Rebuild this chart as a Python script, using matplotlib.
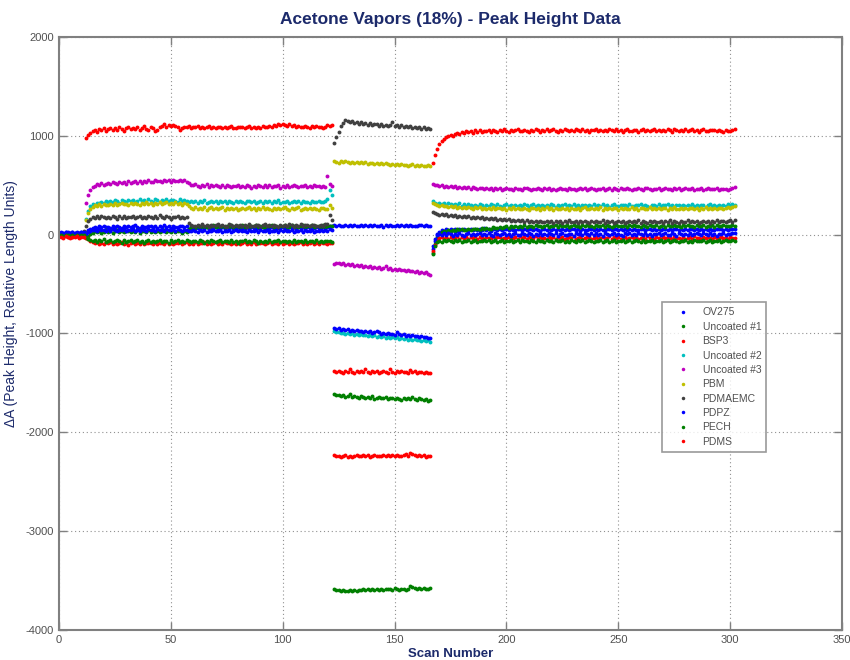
import numpy as np
import matplotlib
matplotlib.use("Agg")
import matplotlib.pyplot as plt

plt.rcParams['font.family'] = ['Liberation Sans Narrow', 'Liberation Sans', 'DejaVu Sans']
plt.rcParams['axes.unicode_minus'] = False

# Scan numbers 1..302: baseline (1-11), exposure (12-122), mid step (123-166), recovery (167-302)
first_scan = 1

labels = ["OV275", "Uncoated #1", "BSP3", "Uncoated #2", "Uncoated #3",
          "PBM", "PDMAEMC", "PDPZ", "PECH", "PDMS"]
colors = ["#0000ff", "#007f00", "#ff0000", "#00bfbf", "#bf00bf",
          "#bfbf00", "#404040", "#0000ff", "#007f00", "#ff0000"]

ov275 = [
    20, 15, 25, 10, 18, 22, 12, 20, 15, 25, 18,
    30, 50, 60, 72, 80, 68, 85, 78, 90, 75,
    82, 70, 88, 76, 92, 80, 72, 86, 78, 90,
    74, 84, 95, 80, 70, 88, 82, 76, 92, 85,
    78, 90, 72, 86, 80, 94, 76, 84, 70, 88,
    82, 76, 92, 85, 78, 88, 60, 72, 65, 78,
    70, 62, 75, 68, 80, 64, 72, 58, 76, 70,
    66, 78, 60, 74, 68, 82, 64, 70, 76, 62,
    72, 68, 80, 60, 74, 66, 78, 70, 64, 76,
    70, 82, 62, 74, 68, 78, 72, 64, 80, 70,
    66, 76, 72, 80, 62, 74, 70, 78, 68, 75,
    72, 80, 66, 78, 70, 74, 82, 68, 76, 90, 85,
    95, 88, 100, 92, 85, 98, 90, 94, 86, 102,
    92, 88, 96, 84, 100, 90, 94, 86, 98, 92,
    88, 96, 82, 94, 90, 100, 86, 92, 98, 88,
    94, 84, 96, 90, 102, 88, 92, 86, 98, 94,
    88, 96, 90, 85,
    -150, -60, 10, 30, 45, 38, 55, 42, 60, 48,
    52, 40, 58, 46, 62, 50, 44, 56, 48, 60,
    42, 54, 50, 64, 46, 58, 40, 52, 56, 48,
    60, 44, 52, 58, 46, 62, 50, 42, 56, 54,
    48, 60, 44, 52, 58, 46, 62, 50, 40, 56,
    52, 46, 60, 48, 54, 42, 58, 50, 62, 46,
    56, 44, 52, 60, 48, 54, 40, 58, 50, 46,
    62, 52, 44, 56, 48, 60, 50, 42, 58, 54,
    46, 60, 52, 44, 56, 50, 62, 48, 54, 42,
    58, 50, 46, 60, 52, 44, 56, 62, 48, 54,
    50, 58, 42, 56, 60, 46, 52, 48, 62, 54,
    44, 56, 50, 60, 46, 58, 52, 42, 56, 50,
    62, 48, 54, 46, 58, 50, 44, 60, 52, 56,
    48, 58, 50, 62, 54, 60,
]

uncoated1 = [
    5, -5, 10, 0, -10, 5, 0, 8, -5, 2, 0,
    -30, -10, 10, 20, 35, 25, 40, 18, 30, 42,
    28, 36, 20, 32, 45, 26, 38, 22, 34, 40,
    24, 36, 30, 44, 20, 32, 38, 26, 42, 30,
    36, 22, 40, 28, 34, 46, 24, 38, 30, 42,
    26, 36, 32, 20, 40, 30, 60, 75, 82, 70,
    88, 78, 92, 80, 74, 90, 84, 96, 76, 86,
    80, 92, 74, 88, 82, 98, 78, 90, 84, 72,
    94, 80, 86, 76, 92, 84, 100, 78, 88, 82,
    74, 90, 86, 96, 80, 88, 76, 92, 84, 98,
    82, 78, 94, 86, 90, 76, 88, 100, 80, 92,
    84, 96, 78, 90, 86, 82, 94, 80, 88, 92, 86,
    -1610, -1625, -1618, -1635, -1622, -1640, -1628, -1615, -1645, -1632,
    -1638, -1650, -1630, -1645, -1655, -1640, -1648, -1635, -1660, -1650,
    -1645, -1658, -1650, -1640, -1662, -1655, -1648, -1665, -1652, -1660,
    -1670, -1655, -1662, -1650, -1668, -1640, -1660, -1672, -1658, -1665,
    -1675, -1660, -1680, -1670,
    -190, -90, -20, 10, 25, 40, 30, 45, 35, 50,
    40, 55, 45, 60, 50, 42, 58, 48, 62, 52,
    60, 50, 66, 56, 70, 62, 58, 74, 64, 70,
    80, 68, 76, 86, 72, 84, 78, 90, 74, 88,
    82, 94, 78, 86, 92, 80, 96, 84, 90, 76,
    88, 98, 82, 92, 86, 100, 80, 94, 88, 84,
    96, 82, 90, 100, 86, 92, 78, 94, 88, 98,
    84, 92, 80, 96, 90, 86, 100, 82, 94, 88,
    78, 92, 98, 84, 90, 86, 96, 80, 94, 88,
    100, 84, 92, 78, 96, 88, 82, 94, 90, 86,
    98, 82, 90, 94, 80, 96, 88, 84, 100, 86,
    92, 78, 94, 88, 98, 84, 90, 82, 96, 88,
    86, 100, 82, 92, 88, 96, 80, 94, 90, 84,
    98, 86, 92, 88, 96, 90,
]

bsp3 = [
    -10, -20, -15, -25, -12, -20, -18, -10, -22, -15, -20,
    -30, -45, -60, -70, -85, -75, -90, -80, -95, -78,
    -88, -72, -92, -80, -98, -84, -76, -90, -82, -100,
    -86, -78, -94, -82, -90, -74, -96, -84, -88, -80,
    -92, -76, -98, -86, -82, -94, -78, -90, -84, -96,
    -80, -88, -74, -92, -86, -78, -96, -82, -90, -76,
    -94, -84, -88, -72, -92, -80, -98, -86, -78, -90,
    -84, -96, -76, -88, -82, -94, -80, -90, -74, -92,
    -86, -78, -96, -84, -90, -76, -94, -82, -88, -80,
    -98, -84, -76, -92, -86, -80, -94, -78, -90, -84,
    -76, -92, -86, -98, -80, -88, -74, -94, -82, -90,
    -84, -78, -96, -86, -92, -76, -88, -82, -94, -80, -86,
    -1380, -1392, -1375, -1388, -1395, -1378, -1390, -1360, -1385, -1398,
    -1382, -1390, -1376, -1394, -1355, -1388, -1396, -1380, -1392, -1384,
    -1398, -1386, -1378, -1392, -1400, -1358, -1388, -1395, -1382, -1390,
    -1376, -1394, -1386, -1402, -1365, -1390, -1384, -1398, -1388, -1394,
    -1400, -1386, -1405, -1396,
    -170, -100, -50, -35, -20, -40, -28, -45, -22, -38,
    -30, -15, -42, -25, -36, -20, -44, -28, -34, -18,
    -40, -26, -32, -46, -22, -36, -30, -14, -38, -28,
    -24, -42, -30, -36, -20, -46, -32, -26, -40, -18,
    -34, -28, -44, -22, -38, -30, -16, -42, -26, -36,
    -30, -48, -24, -34, -20, -40, -28, -36, -22, -44,
    -32, -26, -38, -18, -42, -30, -24, -46, -34, -28,
    -20, -40, -36, -26, -44, -30, -22, -38, -32, -16,
    -42, -28, -34, -24, -46, -36, -20, -40, -30, -26,
    -38, -22, -44, -32, -28, -40, -18, -36, -30, -46,
    -24, -34, -42, -26, -38, -20, -32, -44, -28, -36,
    -30, -48, -22, -40, -34, -26, -42, -18, -36, -30,
    -44, -28, -38, -24, -32, -46, -26, -40, -34, -20,
    -38, -30, -44, -26, -36, -32,
]

uncoated2 = [
    10, 0, 12, 5, -5, 8, 3, 10, 0, 5, 8,
    160, 240, 290, 310, 300, 325, 315, 330, 320, 340,
    328, 345, 332, 350, 338, 322, 355, 340, 330, 348,
    336, 352, 330, 345, 360, 338, 350, 328, 356, 342,
    334, 358, 346, 330, 352, 340, 362, 336, 348, 354,
    340, 332, 356, 344, 350, 338, 330, 345, 328, 340,
    322, 338, 330, 346, 318, 334, 342, 326, 338, 320,
    336, 328, 344, 322, 340, 330, 316, 338, 326, 342,
    330, 320, 336, 344, 326, 338, 318, 334, 340, 324,
    342, 328, 336, 320, 338, 330, 346, 322, 334, 326,
    340, 318, 332, 344, 326, 336, 322, 340, 328, 334,
    320, 338, 330, 326, 342, 334, 328, 340, 360, 450, 400,
    -975, -990, -982, -1000, -992, -1005, -996, -1010, -998, -1012,
    -1004, -1018, -1008, -1020, -1012, -1026, -1015, -1030, -1020, -1034,
    -1024, -1036, -1030, -1042, -1032, -1046, -1038, -1050, -1040, -1054,
    -1046, -1058, -1050, -1062, -1054, -1066, -1058, -1070, -1062, -1074,
    -1066, -1078, -1070, -1082,
    340, 325, 310, 318, 305, 322, 300, 315, 308, 296,
    312, 300, 318, 294, 306, 290, 310, 298, 286, 304,
    292, 308, 296, 284, 302, 290, 312, 298, 288, 306,
    294, 282, 300, 310, 290, 298, 286, 304, 292, 300,
    288, 306, 296, 284, 300, 312, 292, 298, 286, 304,
    294, 300, 288, 308, 296, 284, 302, 290, 298, 310,
    286, 300, 294, 306, 290, 298, 284, 304, 296, 288,
    302, 292, 308, 286, 298, 294, 306, 290, 300, 284,
    298, 310, 292, 288, 304, 296, 300, 286, 306, 294,
    290, 302, 296, 308, 288, 300, 294, 284, 304, 298,
    292, 306, 286, 300, 296, 310, 290, 298, 284, 302,
    296, 288, 304, 292, 300, 286, 306, 294, 298, 290,
    302, 296, 284, 300, 308, 290, 298, 286, 304, 294,
    300, 288, 306, 296, 310, 302,
]

uncoated3 = [
    5, 10, -5, 0, 8, 2, -2, 6, 0, 4, 10,
    320, 400, 450, 480, 495, 510, 500, 520, 505, 515,
    525, 508, 530, 518, 512, 535, 520, 528, 515, 540,
    522, 532, 545, 525, 538, 520, 542, 530, 548, 535,
    528, 550, 538, 545, 530, 555, 540, 548, 532, 552,
    545, 538, 556, 542, 550, 530, 520, 505, 498, 510,
    495, 485, 502, 490, 510, 482, 498, 488, 505, 492,
    480, 498, 486, 502, 490, 478, 496, 488, 504, 484,
    494, 480, 500, 488, 476, 496, 484, 502, 490, 478,
    498, 486, 504, 482, 494, 488, 500, 476, 492, 486,
    498, 484, 492, 506, 488, 480, 496, 490, 502, 486,
    494, 482, 500, 488, 496, 484, 492, 480, 590, 510, 490,
    -300, -292, -285, -298, -290, -305, -296, -310, -302, -315,
    -306, -320, -312, -325, -318, -332, -322, -336, -328, -340,
    -330, -344, -336, -320, -348, -340, -354, -344, -358, -350,
    -362, -354, -368, -358, -372, -364, -378, -370, -384, -376,
    -390, -382, -400, -410,
    510, 498, 505, 490, 500, 485, 495, 480, 492, 478,
    488, 475, 482, 470, 486, 472, 480, 466, 478, 470,
    462, 476, 468, 458, 474, 464, 470, 456, 472, 460,
    468, 454, 466, 472, 458, 464, 452, 470, 460, 466,
    456, 468, 474, 460, 452, 466, 458, 470, 462, 454,
    468, 460, 472, 456, 464, 450, 466, 474, 458, 462,
    454, 470, 460, 466, 452, 462, 476, 458, 468, 456,
    464, 472, 458, 450, 466, 460, 470, 454, 462, 468,
    456, 474, 462, 452, 468, 460, 458, 472, 464, 450,
    466, 458, 470, 462, 454, 468, 476, 460, 452, 466,
    462, 470, 456, 464, 474, 458, 466, 452, 468, 460,
    472, 456, 464, 470, 458, 462, 476, 454, 466, 460,
    468, 452, 462, 474, 458, 466, 460, 470, 456, 464,
    458, 462, 450, 466, 474, 480,
]

pbm = [
    0, 5, -5, 10, 0, 2, 8, -3, 5, 0, 30,
    150, 220, 260, 280, 295, 288, 305, 292, 310, 300,
    296, 312, 304, 318, 300, 308, 322, 306, 314, 298,
    316, 306, 324, 310, 302, 320, 312, 328, 308, 318,
    304, 322, 314, 330, 310, 318, 326, 306, 320, 312,
    328, 310, 316, 300, 322, 308, 290, 270, 262, 275,
    258, 270, 264, 280, 252, 268, 276, 260, 272, 256,
    266, 278, 254, 270, 262, 274, 258, 268, 250, 264,
    272, 256, 266, 280, 260, 270, 254, 268, 262, 276,
    258, 270, 264, 252, 274, 260, 268, 256, 266, 278,
    262, 254, 270, 258, 266, 276, 250, 264, 272, 258,
    268, 256, 274, 262, 250, 266, 270, 258, 264, 300, 272,
    740, 735, 728, 742, 730, 745, 732, 725, 738, 728,
    735, 720, 730, 724, 736, 718, 728, 722, 714, 726,
    716, 722, 710, 720, 712, 706, 718, 708, 714, 702,
    710, 700, 708, 696, 704, 712, 698, 706, 694, 702,
    696, 690, 700, 692,
    320, 305, 295, 288, 300, 285, 292, 280, 290, 276,
    286, 274, 282, 270, 284, 266, 278, 272, 260, 276,
    268, 280, 262, 274, 258, 270, 264, 278, 256, 268,
    272, 260, 266, 254, 270, 262, 276, 258, 268, 264,
    256, 272, 262, 250, 266, 274, 260, 268, 254, 270,
    262, 276, 258, 266, 252, 270, 264, 256, 272, 260,
    268, 254, 274, 262, 258, 270, 250, 266, 276, 260,
    264, 272, 256, 268, 260, 276, 254, 266, 262, 270,
    258, 266, 274, 252, 268, 262, 270, 256, 264, 276,
    260, 270, 254, 266, 272, 258, 264, 278, 256, 268,
    262, 274, 258, 266, 270, 254, 268, 260, 276, 264,
    256, 270, 262, 274, 258, 266, 272, 260, 268, 254,
    270, 264, 276, 258, 266, 262, 272, 256, 268, 274,
    262, 270, 278, 266, 284, 290,
]

pdmaemc = [
    8, 0, 12, 5, 0, 10, 2, -4, 6, 0, 40,
    90, 140, 160, 175, 168, 185, 172, 190, 178, 165,
    182, 170, 188, 176, 162, 184, 172, 192, 168, 180,
    174, 186, 166, 178, 190, 170, 182, 164, 188, 176,
    168, 184, 172, 194, 178, 166, 186, 174, 160, 182,
    176, 188, 170, 180, 164, 178, 120, 100, 92, 86,
    98, 84, 104, 90, 96, 80, 102, 88, 94, 108,
    86, 100, 92, 82, 106, 94, 88, 98, 84, 102,
    90, 96, 80, 104, 92, 86, 100, 94, 82, 98,
    106, 88, 96, 84, 100, 92, 80, 102, 90, 96,
    86, 104, 94, 82, 98, 90, 106, 88, 96, 100,
    84, 94, 102, 90, 86, 98, 92, 104, 110, 200, 150,
    930, 985, 1040, 1095, 1130, 1160, 1145, 1138, 1150, 1128,
    1142, 1120, 1135, 1118, 1130, 1112, 1126, 1108, 1122, 1115,
    1104, 1118, 1100, 1112, 1095, 1108, 1140, 1098, 1110, 1092,
    1105, 1088, 1100, 1084, 1096, 1080, 1092, 1076, 1088, 1072,
    1084, 1070, 1078, 1068,
    230, 215, 205, 198, 210, 195, 205, 190, 200, 186,
    196, 182, 192, 178, 188, 174, 186, 170, 182, 168,
    178, 164, 174, 160, 170, 158, 168, 154, 164, 150,
    160, 148, 156, 144, 154, 140, 150, 138, 148, 136,
    146, 132, 144, 130, 142, 128, 140, 126, 138, 132,
    124, 138, 128, 142, 122, 134, 130, 140, 120, 136,
    128, 144, 124, 132, 138, 120, 134, 126, 142, 130,
    118, 136, 128, 140, 124, 132, 146, 122, 134, 128,
    138, 120, 130, 142, 126, 136, 118, 132, 140, 124,
    134, 128, 144, 122, 136, 130, 118, 138, 126, 142,
    124, 132, 140, 120, 134, 128, 146, 122, 136, 130,
    118, 138, 126, 132, 144, 124, 136, 128, 140, 120,
    132, 142, 126, 136, 122, 138, 130, 146, 124, 134,
    140, 128, 136, 144, 132, 150,
]

pdpz = [
    25, 18, 30, 22, 15, 28, 20, 24, 16, 26, 22,
    10, 25, 35, 42, 50, 38, 55, 44, 48, 36,
    52, 40, 58, 46, 34, 50, 42, 56, 38, 48,
    44, 54, 36, 50, 40, 58, 46, 34, 52, 42,
    48, 38, 56, 44, 50, 36, 54, 42, 46, 58,
    40, 52, 44, 36, 50, 46, 40, 32, 44, 38,
    30, 42, 36, 48, 28, 40, 34, 46, 32, 38,
    44, 30, 40, 36, 48, 26, 38, 42, 34, 46,
    32, 40, 28, 44, 36, 38, 48, 30, 42, 34,
    40, 46, 28, 38, 34, 44, 30, 42, 36, 48,
    32, 38, 44, 30, 40, 36, 46, 28, 42, 34,
    38, 44, 30, 40, 36, 48, 32, 42, 38, 60, 50,
    -945, -955, -948, -962, -952, -968, -958, -972, -962, -976,
    -968, -980, -972, -985, -976, -990, -980, -994, -986, -975,
    -990, -1002, -994, -1006, -998, -1010, -1002, -1014, -985, -1008,
    -1018, -1010, -1022, -1014, -1026, -1018, -1030, -1022, -1034, -1028,
    -1040, -1032, -1046, -1050,
    -120, -40, -5, 10, 0, 15, -8, 12, 2, -10,
    8, -4, 14, 0, -12, 6, 16, -2, 10, -6,
    4, 18, -8, 8, -2, 12, 0, -10, 14, 2,
    -6, 10, 20, -4, 6, -12, 8, 16, 0, -8,
    12, 2, -6, 18, 4, -10, 10, 0, 14, -4,
    6, -8, 16, 2, -2, 12, -10, 8, 20, 0,
    -6, 10, 4, -12, 14, 2, 8, -4, 18, 6,
    -8, 12, 0, 16, -2, 8, -10, 14, 4, -6,
    10, 20, -4, 6, 0, -10, 12, 2, 16, -8,
    8, -2, 14, 4, -6, 18, 0, 10, -12, 6,
    2, 14, -8, 10, 20, 0, -4, 12, 6, -10,
    16, 4, -6, 8, 0, 14, -2, 10, 18, 2,
    -8, 12, 6, -4, 16, 0, 10, -10, 8, 4,
    14, -2, 10, 6, 18, 12,
]

pech = [
    -5, -12, 0, -8, -15, -3, -10, -6, -12, 0, -8,
    -20, -40, -50, -62, -55, -70, -58, -66, -48, -72,
    -60, -52, -74, -64, -56, -68, -80, -58, -70, -62,
    -54, -76, -66, -58, -72, -60, -84, -64, -56, -70,
    -62, -78, -68, -54, -74, -60, -66, -82, -58, -70,
    -64, -56, -76, -62, -70, -58, -68, -74, -60, -66,
    -72, -56, -64, -80, -60, -70, -54, -68, -76, -62,
    -58, -74, -66, -60, -78, -56, -70, -64, -82, -60,
    -68, -54, -72, -62, -76, -58, -66, -80, -60, -70,
    -64, -76, -56, -72, -62, -68, -58, -74, -66, -60,
    -78, -62, -70, -56, -74, -64, -60, -72, -58, -76,
    -66, -60, -74, -56, -70, -64, -78, -62, -68, -60, -72,
    -3590, -3598, -3592, -3605, -3600, -3610, -3602, -3596, -3606, -3598,
    -3604, -3594, -3600, -3590, -3598, -3586, -3594, -3588, -3596, -3584,
    -3592, -3586, -3594, -3582, -3590, -3584, -3592, -3580, -3588, -3595,
    -3584, -3590, -3600, -3585, -3555, -3570, -3575, -3582, -3578, -3586,
    -3580, -3590, -3582, -3578,
    -200, -110, -75, -60, -70, -55, -68, -50, -64, -72,
    -58, -66, -52, -74, -60, -68, -56, -70, -62, -54,
    -72, -60, -66, -50, -68, -58, -76, -62, -54, -70,
    -64, -56, -72, -60, -68, -52, -74, -62, -58, -70,
    -54, -66, -60, -76, -58, -64, -70, -52, -68, -62,
    -74, -56, -66, -60, -72, -54, -68, -62, -58, -76,
    -60, -70, -56, -64, -74, -58, -66, -52, -72, -62,
    -56, -68, -74, -60, -64, -54, -70, -66, -58, -76,
    -62, -56, -72, -60, -68, -52, -74, -64, -58, -70,
    -66, -54, -62, -76, -58, -70, -60, -68, -56, -72,
    -60, -66, -52, -74, -62, -58, -70, -64, -56, -68,
    -72, -60, -66, -54, -70, -62, -76, -58, -64, -60,
    -68, -56, -72, -62, -58, -74, -60, -66, -54, -70,
    -62, -58, -68, -60, -54, -64,
]

pdms = [
    -20, -30, -15, -25, -35, -20, -28, -18, -30, -22, -25,
    980, 1010, 1030, 1045, 1060, 1040, 1070, 1055, 1075, 1050,
    1068, 1080, 1058, 1075, 1062, 1085, 1070, 1052, 1078, 1090,
    1065, 1080, 1072, 1088, 1060, 1082, 1095, 1070, 1062, 1085,
    1078, 1045, 1060, 1090, 1100, 1115, 1092, 1105, 1098, 1110,
    1102, 1088, 1060, 1082, 1094, 1086, 1100, 1078, 1092, 1084,
    1096, 1080, 1090, 1074, 1088, 1098, 1082, 1092, 1076, 1086,
    1094, 1080, 1090, 1078, 1088, 1096, 1082, 1074, 1090, 1084,
    1092, 1078, 1086, 1100, 1080, 1094, 1076, 1088, 1082, 1096,
    1086, 1090, 1104, 1094, 1110, 1100, 1116, 1108, 1120, 1112,
    1104, 1118, 1096, 1108, 1090, 1102, 1094, 1086, 1098, 1090,
    1082, 1096, 1088, 1100, 1084, 1092, 1080, 1094, 1110, 1100, 1106,
    -2230, -2242, -2235, -2248, -2238, -2232, -2245, -2236, -2250, -2240,
    -2232, -2244, -2236, -2228, -2242, -2234, -2246, -2238, -2230, -2244,
    -2236, -2240, -2226, -2238, -2232, -2244, -2234, -2240, -2228, -2236,
    -2242, -2232, -2224, -2238, -2210, -2215, -2228, -2236, -2226, -2240,
    -2232, -2248, -2238, -2244,
    720, 805, 870, 920, 945, 970, 990, 1000, 1010, 995,
    1020, 1030, 1015, 1040, 1025, 1045, 1035, 1050, 1030, 1055,
    1042, 1060, 1038, 1052, 1045, 1062, 1040, 1055, 1048, 1035,
    1058, 1044, 1064, 1050, 1040, 1060, 1046, 1056, 1070, 1052,
    1044, 1062, 1050, 1036, 1058, 1048, 1066, 1054, 1042, 1060,
    1050, 1064, 1044, 1056, 1072, 1052, 1040, 1060, 1048, 1066,
    1056, 1044, 1062, 1050, 1070, 1054, 1046, 1064, 1052, 1058,
    1042, 1060, 1054, 1068, 1048, 1058, 1044, 1062, 1052, 1070,
    1056, 1046, 1064, 1050, 1060, 1042, 1058, 1072, 1052, 1048,
    1062, 1054, 1040, 1058, 1066, 1050, 1060, 1044, 1056, 1068,
    1052, 1062, 1046, 1058, 1050, 1070, 1054, 1042, 1064, 1056,
    1048, 1060, 1052, 1066, 1044, 1058, 1072, 1050, 1062, 1040,
    1056, 1068, 1050, 1046, 1062, 1054, 1060, 1044, 1058, 1050,
    1040, 1056, 1046, 1052, 1060, 1064,
]

series = [ov275, uncoated1, bsp3, uncoated2, uncoated3,
          pbm, pdmaemc, pdpz, pech, pdms]

x_ticks = [0, 50, 100, 150, 200, 250, 300, 350]
y_ticks = [-4000, -3000, -2000, -1000, 0, 1000, 2000]

navy = "#1c2a6b"
frame_gray = "#808080"
text_gray = "#505050"

fig = plt.figure(figsize=(8.5, 6.6), dpi=100)
ax = fig.add_axes([0.0694, 0.0455, 0.9212, 0.8985])

for vals, lab, col in zip(series, labels, colors):
    scans = np.arange(first_scan, first_scan + len(vals))
    ax.plot(scans, vals, linestyle="none", marker="o", markersize=2.8,
            markeredgewidth=0, color=col, label=lab)

ax.set_xlim(0, 350)
ax.set_ylim(-4000, 2000)
ax.set_xticks(x_ticks)
ax.set_yticks(y_ticks)
ax.grid(True, linestyle=(0, (1, 2.5)), color="#909090", linewidth=0.8)
ax.tick_params(direction="in", length=6, width=1, color=frame_gray,
               labelsize=8, labelcolor=text_gray,
               top=True, right=True)
for sp in ax.spines.values():
    sp.set_color(frame_gray)
    sp.set_linewidth(1.5)

ax.set_title("Acetone Vapors (18%) - Peak Height Data", fontsize=12.5,
             fontweight="bold", color=navy, pad=9)
ax.set_xlabel("Scan Number", fontsize=9.5, fontweight="bold", color=navy,
              labelpad=2)
ax.set_ylabel("ΔA (Peak Height, Relative Length Units)", fontsize=10,
              color=navy, labelpad=8)
ax.yaxis.set_label_coords(-0.052, 0.55)

leg = ax.legend(loc="lower left", bbox_to_anchor=(0.770, 0.300),
                borderaxespad=0, fontsize=7.5, frameon=True, fancybox=False,
                handlelength=3.0, handletextpad=0.4, borderpad=0.5,
                labelspacing=0.42, markerscale=0.9)
leg.get_frame().set_edgecolor(frame_gray)
leg.get_frame().set_linewidth(1.2)
for t in leg.get_texts():
    t.set_color(text_gray)

fig.savefig("out.png", dpi=100)
